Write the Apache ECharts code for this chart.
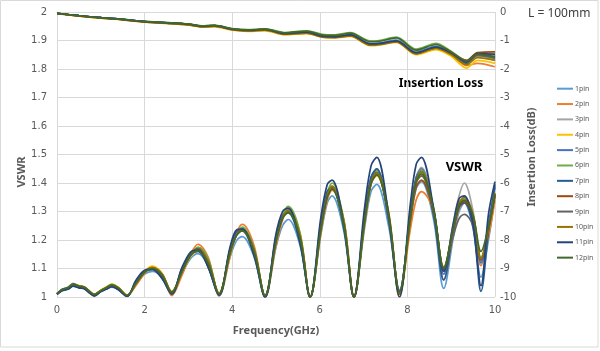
<!DOCTYPE html>
<html>
<head>
<meta charset="utf-8">
<script src="https://cdn.jsdelivr.net/npm/echarts@6.0.0/dist/echarts.min.js"></script>
<style>
  html, body { margin: 0; padding: 0; background: #fff; }
  #chart { width: 600px; height: 351px; }
</style>
</head>
<body>
<div id="chart"></div>
<script>
// frequency points (GHz)
const vswrFreq = [0, 0.12, 0.25, 0.37, 0.5, 0.62, 0.75, 0.85, 1.0, 1.12, 1.25, 1.4, 1.6,
  1.8, 2.0, 2.18, 2.4, 2.62,
  2.85, 3.05, 3.22, 3.45, 3.7,
  3.95, 4.1, 4.23, 4.5, 4.75,
  5.0, 5.15, 5.28, 5.55, 5.78,
  6.02, 6.17, 6.28, 6.55, 6.78,
  7.02, 7.17, 7.3, 7.57, 7.82,
  8.07, 8.2, 8.32, 8.6, 8.83,
  9.05, 9.18, 9.3, 9.5, 9.68,
  9.85, 10];
const ilFreq = [0, 0.5, 1, 1.5, 2, 2.5, 3, 3.3, 3.6, 4.0, 4.35, 4.75, 5.2, 5.7, 6.05, 6.35, 6.7,
  7.15, 7.35, 7.75, 8.2, 8.65, 9.0, 9.35, 9.6, 10];

const pinNames = ['1pin', '2pin', '3pin', '4pin', '5pin', '6pin', '7pin', '8pin', '9pin', '10pin', '11pin', '12pin'];
const pinColors = ['#5B9BD5', '#ED7D31', '#A5A5A5', '#FFC000', '#4472C4', '#70AD47',
  '#255E91', '#9E480E', '#636363', '#997300', '#264478', '#43682B'];

// VSWR values
const vswr1 = [1.010,1.022,1.028,1.038,1.033,1.030,1.015,1.005,1.018,1.027,1.035,1.027,1.003,
  1.045,1.080,1.090,1.068,1.010,
  1.080,1.135,1.152,1.110,1.005,
  1.140,1.198,1.212,1.140,1.000,
  1.175,1.250,1.272,1.180,1.000,
  1.215,1.330,1.355,1.230,1.000,
  1.240,1.370,1.395,1.250,1.025,
  1.270,1.380,1.405,1.270,1.030,
  1.210,1.300,1.330,1.240,1.070,
  1.200,1.355];
const vswr2 = [1.012,1.024,1.030,1.040,1.036,1.033,1.016,1.004,1.020,1.030,1.042,1.033,1.006,
  1.040,1.082,1.104,1.082,1.005,
  1.075,1.150,1.185,1.140,1.005,
  1.140,1.225,1.255,1.180,1.000,
  1.180,1.270,1.310,1.220,1.000,
  1.220,1.340,1.375,1.270,1.005,
  1.250,1.395,1.430,1.300,1.010,
  1.240,1.340,1.370,1.300,1.060,
  1.220,1.310,1.330,1.280,1.110,
  1.210,1.340];
const vswr3 = [1.011,1.027,1.033,1.048,1.038,1.034,1.017,1.006,1.021,1.030,1.040,1.030,1.004,
  1.050,1.090,1.105,1.078,1.018,
  1.092,1.152,1.170,1.122,1.010,
  1.162,1.225,1.242,1.160,1.005,
  1.200,1.282,1.305,1.205,1.000,
  1.240,1.360,1.385,1.255,1.000,
  1.265,1.400,1.430,1.280,1.020,
  1.290,1.420,1.455,1.310,1.090,
  1.260,1.355,1.400,1.300,1.120,
  1.250,1.360];
const vswr4 = [1.010,1.026,1.032,1.044,1.040,1.036,1.020,1.010,1.024,1.034,1.045,1.034,1.007,
  1.048,1.090,1.108,1.082,1.020,
  1.085,1.142,1.160,1.120,1.015,
  1.155,1.218,1.235,1.162,1.005,
  1.195,1.282,1.310,1.215,1.000,
  1.235,1.360,1.390,1.265,1.000,
  1.262,1.400,1.425,1.290,1.000,
  1.280,1.400,1.425,1.300,1.105,
  1.245,1.325,1.345,1.285,1.130,
  1.240,1.350];
const vswr5 = [1.010,1.025,1.029,1.040,1.034,1.031,1.016,1.007,1.021,1.029,1.038,1.028,1.004,
  1.052,1.090,1.098,1.070,1.012,
  1.095,1.152,1.165,1.112,1.008,
  1.165,1.228,1.240,1.155,1.003,
  1.210,1.288,1.305,1.195,1.000,
  1.250,1.368,1.388,1.245,1.000,
  1.280,1.420,1.450,1.275,1.015,
  1.300,1.420,1.450,1.295,1.080,
  1.235,1.320,1.335,1.260,1.120,
  1.260,1.385];
const vswr6 = [1.011,1.026,1.031,1.045,1.038,1.034,1.018,1.009,1.023,1.033,1.044,1.033,1.006,
  1.045,1.085,1.102,1.080,1.018,
  1.085,1.148,1.175,1.135,1.012,
  1.150,1.222,1.245,1.170,1.005,
  1.190,1.285,1.318,1.225,1.000,
  1.225,1.365,1.400,1.270,1.000,
  1.255,1.405,1.445,1.295,1.010,
  1.275,1.410,1.445,1.310,1.100,
  1.240,1.325,1.345,1.280,1.140,
  1.235,1.360];
const vswr7 = [1.010,1.024,1.028,1.040,1.034,1.031,1.015,1.005,1.020,1.028,1.037,1.027,1.003,
  1.055,1.090,1.096,1.066,1.010,
  1.098,1.150,1.160,1.105,1.005,
  1.168,1.225,1.232,1.148,1.000,
  1.212,1.285,1.295,1.188,1.000,
  1.255,1.370,1.385,1.240,1.000,
  1.285,1.420,1.450,1.270,1.010,
  1.300,1.415,1.440,1.285,1.060,
  1.230,1.315,1.330,1.245,1.020,
  1.230,1.395];
const vswr8 = [1.011,1.025,1.031,1.043,1.037,1.034,1.018,1.007,1.022,1.031,1.041,1.031,1.005,
  1.047,1.086,1.100,1.078,1.015,
  1.088,1.148,1.170,1.125,1.010,
  1.155,1.220,1.238,1.165,1.003,
  1.195,1.278,1.300,1.210,1.000,
  1.232,1.355,1.382,1.258,1.000,
  1.262,1.400,1.432,1.285,1.015,
  1.270,1.385,1.410,1.295,1.095,
  1.240,1.320,1.335,1.275,1.130,
  1.235,1.355];
const vswr9 = [1.012,1.027,1.034,1.046,1.039,1.035,1.019,1.008,1.022,1.031,1.040,1.030,1.005,
  1.050,1.089,1.101,1.076,1.016,
  1.090,1.150,1.167,1.120,1.010,
  1.160,1.222,1.238,1.160,1.004,
  1.200,1.280,1.300,1.202,1.000,
  1.240,1.358,1.382,1.250,1.000,
  1.268,1.408,1.438,1.280,1.020,
  1.285,1.400,1.425,1.300,1.105,
  1.215,1.275,1.290,1.250,1.130,
  1.240,1.360];
const vswr10 = [1.010,1.025,1.031,1.043,1.038,1.035,1.019,1.009,1.023,1.033,1.043,1.033,1.006,
  1.046,1.087,1.104,1.081,1.018,
  1.086,1.146,1.165,1.125,1.013,
  1.152,1.216,1.234,1.165,1.005,
  1.192,1.278,1.305,1.215,1.000,
  1.230,1.355,1.388,1.265,1.000,
  1.258,1.400,1.435,1.295,1.010,
  1.278,1.408,1.440,1.305,1.100,
  1.245,1.330,1.350,1.290,1.135,
  1.240,1.365];
const vswr11 = [1.009,1.023,1.027,1.038,1.032,1.029,1.013,1.004,1.019,1.027,1.036,1.025,1.002,
  1.058,1.094,1.098,1.064,1.012,
  1.102,1.158,1.165,1.105,1.008,
  1.175,1.235,1.238,1.145,1.000,
  1.222,1.300,1.312,1.190,1.000,
  1.275,1.395,1.410,1.250,1.000,
  1.310,1.460,1.490,1.290,1.000,
  1.330,1.465,1.490,1.310,1.090,
  1.260,1.345,1.355,1.255,1.040,
  1.290,1.405];
const vswr12 = [1.011,1.026,1.032,1.044,1.038,1.034,1.018,1.008,1.022,1.032,1.042,1.032,1.005,
  1.048,1.087,1.100,1.076,1.016,
  1.088,1.146,1.162,1.118,1.010,
  1.156,1.216,1.232,1.158,1.004,
  1.196,1.276,1.296,1.205,1.000,
  1.236,1.350,1.378,1.250,1.000,
  1.264,1.398,1.428,1.285,1.020,
  1.285,1.405,1.432,1.305,1.100,
  1.245,1.322,1.340,1.285,1.160,
  1.245,1.360];

// Insertion loss values (dB)
const il1 = [-0.05,-0.13,-0.20,-0.26,-0.33,-0.38,-0.43,-0.50,-0.48,-0.60,-0.64,-0.61,-0.75,-0.70,-0.82,-0.85,-0.78,-1.10,-1.09,-0.98,-1.40,-1.20,-1.42,-1.72,-1.50,-1.70];
const il2 = [-0.05,-0.14,-0.21,-0.27,-0.35,-0.40,-0.45,-0.52,-0.50,-0.62,-0.67,-0.64,-0.79,-0.74,-0.88,-0.90,-0.84,-1.16,-1.15,-1.06,-1.48,-1.30,-1.50,-1.88,-1.80,-1.92];
const il3 = [-0.05,-0.13,-0.20,-0.26,-0.34,-0.38,-0.44,-0.50,-0.48,-0.60,-0.65,-0.62,-0.76,-0.71,-0.84,-0.87,-0.80,-1.12,-1.11,-1.00,-1.42,-1.24,-1.45,-1.76,-1.55,-1.65];
const il4 = [-0.06,-0.15,-0.22,-0.28,-0.36,-0.40,-0.46,-0.53,-0.52,-0.64,-0.68,-0.66,-0.80,-0.76,-0.88,-0.90,-0.86,-1.18,-1.16,-1.07,-1.50,-1.32,-1.55,-1.97,-1.70,-1.80];
const il5 = [-0.05,-0.13,-0.20,-0.26,-0.34,-0.38,-0.43,-0.50,-0.48,-0.60,-0.64,-0.61,-0.75,-0.70,-0.84,-0.86,-0.80,-1.12,-1.11,-1.01,-1.42,-1.22,-1.42,-1.74,-1.45,-1.55];
const il6 = [-0.05,-0.13,-0.20,-0.26,-0.33,-0.37,-0.42,-0.49,-0.47,-0.58,-0.62,-0.59,-0.72,-0.66,-0.78,-0.80,-0.72,-1.02,-1.00,-0.88,-1.30,-1.10,-1.38,-1.70,-1.48,-1.55];
const il7 = [-0.05,-0.13,-0.20,-0.26,-0.34,-0.39,-0.44,-0.51,-0.49,-0.61,-0.65,-0.62,-0.77,-0.72,-0.86,-0.88,-0.82,-1.14,-1.13,-1.03,-1.45,-1.26,-1.46,-1.80,-1.50,-1.60];
const il8 = [-0.05,-0.14,-0.21,-0.27,-0.35,-0.39,-0.44,-0.51,-0.50,-0.61,-0.66,-0.63,-0.77,-0.73,-0.86,-0.89,-0.83,-1.15,-1.14,-1.04,-1.46,-1.25,-1.44,-1.70,-1.42,-1.40];
const il9 = [-0.05,-0.13,-0.20,-0.26,-0.34,-0.38,-0.43,-0.50,-0.48,-0.60,-0.64,-0.61,-0.76,-0.71,-0.85,-0.87,-0.81,-1.13,-1.12,-1.02,-1.44,-1.24,-1.45,-1.78,-1.52,-1.62];
const il10 = [-0.06,-0.14,-0.21,-0.27,-0.35,-0.39,-0.45,-0.52,-0.50,-0.62,-0.66,-0.64,-0.78,-0.74,-0.87,-0.89,-0.84,-1.16,-1.14,-1.05,-1.47,-1.28,-1.50,-1.85,-1.60,-1.70];
const il11 = [-0.05,-0.13,-0.20,-0.26,-0.34,-0.38,-0.43,-0.50,-0.48,-0.60,-0.64,-0.61,-0.76,-0.71,-0.85,-0.87,-0.80,-1.12,-1.11,-1.01,-1.43,-1.23,-1.43,-1.75,-1.46,-1.48];
const il12 = [-0.05,-0.13,-0.20,-0.26,-0.33,-0.37,-0.42,-0.49,-0.47,-0.59,-0.63,-0.60,-0.73,-0.67,-0.80,-0.82,-0.74,-1.04,-1.03,-0.91,-1.34,-1.14,-1.40,-1.72,-1.48,-1.58];

const vswrAll = [vswr1, vswr2, vswr3, vswr4, vswr5, vswr6, vswr7, vswr8, vswr9, vswr10, vswr11, vswr12];
const ilAll = [il1, il2, il3, il4, il5, il6, il7, il8, il9, il10, il11, il12];

const grayText = '#595959';
const gridColor = '#D9D9D9';

const series = [];
pinNames.forEach((name, i) => {
  series.push({
    name: name,
    type: 'line',
    yAxisIndex: 1,
    symbol: 'none',
    smooth: 0.3,
    lineStyle: { width: 1.7, color: pinColors[i] },
    itemStyle: { color: pinColors[i] },
    data: ilFreq.map((f, j) => [f, ilAll[i][j]])
  });
});
pinNames.forEach((name, i) => {
  series.push({
    name: name,
    type: 'line',
    yAxisIndex: 0,
    symbol: 'none',
    smooth: 0.35,
    lineStyle: { width: 1.7, color: pinColors[i] },
    itemStyle: { color: pinColors[i] },
    data: vswrFreq.map((f, j) => [f, vswrAll[i][j]])
  });
});

const chart = echarts.init(document.getElementById('chart'));
chart.setOption({
  animation: false,
  textStyle: { fontFamily: 'DejaVu Sans' },
  grid: { left: 57, right: 105, top: 12, bottom: 54 },
  legend: {
    data: pinNames.map((n, i) => ({ name: n, icon: 'rect', itemStyle: { color: pinColors[i] } })),
    orient: 'vertical',
    left: 557,
    top: 83,
    padding: 0,
    itemWidth: 16,
    itemHeight: 2,
    itemGap: 4,
    textStyle: { fontSize: 7, color: grayText, fontFamily: 'Noto Sans', lineHeight: 11.36, padding: [0, 0, 0, -3] }
  },
  xAxis: {
    type: 'value',
    min: 0,
    max: 10,
    interval: 2,
    axisLine: { show: true, lineStyle: { color: gridColor } },
    axisTick: { show: false },
    axisLabel: { color: grayText, fontSize: 10, margin: 8 },
    splitLine: { show: true, lineStyle: { color: gridColor } }
  },
  yAxis: [
    {
      type: 'value',
      min: 1,
      max: 2,
      interval: 0.1,
      axisLine: { show: false },
      axisTick: { show: false },
      axisLabel: { color: grayText, fontSize: 10, margin: 10, formatter: v => String(+v.toFixed(1)) },
      splitLine: { show: true, lineStyle: { color: gridColor } }
    },
    {
      type: 'value',
      min: -10,
      max: 0,
      interval: 1,
      position: 'right',
      axisLine: { show: false },
      axisTick: { show: false },
      axisLabel: { color: grayText, fontSize: 10, margin: 5 },
      splitLine: { show: false }
    }
  ],
  graphic: [
    {
      type: 'rect',
      shape: { x: 0.5, y: 0.5, width: 597.5, height: 346.5 },
      style: { fill: 'none', stroke: gridColor, lineWidth: 1 },
      silent: true
    },
    {
      type: 'text', x: 22, y: 172, rotation: Math.PI / 2,
      style: { text: 'VSWR', fill: grayText, font: 'bold 11px "Noto Sans"', align: 'center', verticalAlign: 'middle' }
    },
    {
      type: 'text', x: 532, y: 157, rotation: Math.PI / 2,
      style: { text: 'Insertion Loss(dB)', fill: grayText, font: 'bold 11px "Noto Sans"', align: 'center', verticalAlign: 'middle' }
    },
    {
      type: 'text', x: 276, y: 331,
      style: { text: 'Frequency(GHz)', fill: grayText, font: 'bold 11px "Noto Sans"', align: 'center', verticalAlign: 'middle' }
    },
    {
      type: 'text', x: 528, y: 14,
      style: { text: 'L = 100mm', fill: '#404040', font: '12px "Noto Sans"', align: 'left', verticalAlign: 'middle' }
    },
    {
      type: 'text', x: 441, y: 84,
      style: { text: 'Insertion Loss', fill: '#000', font: 'bold 12px "Noto Sans"', align: 'center', verticalAlign: 'middle' }
    },
    {
      type: 'text', x: 464, y: 167,
      style: { text: 'VSWR', fill: '#000', font: 'bold 13px "Noto Sans"', align: 'center', verticalAlign: 'middle' }
    }
  ],
  series: series
});
</script>
</body>
</html>
